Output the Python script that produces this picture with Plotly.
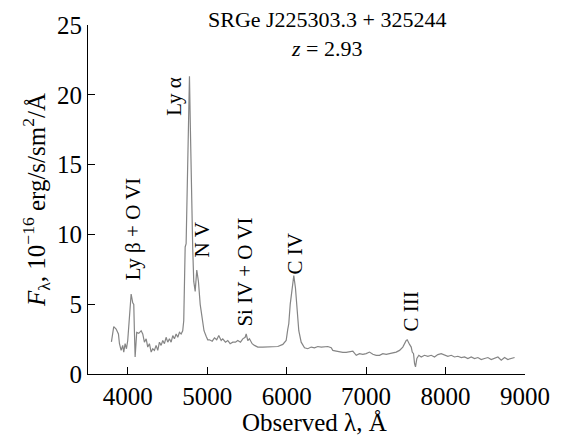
import plotly.graph_objects as go

wavelength = [3795, 3805, 3824, 3854, 3883, 3896, 3917, 3937, 3950, 3967, 3984, 4000, 4021, 4043, 4063,
              4076, 4084, 4093, 4113, 4139, 4169, 4189, 4210, 4232, 4252, 4273, 4295, 4315, 4336, 4357,
              4378, 4399, 4420, 4441, 4462, 4483, 4504, 4525, 4546, 4567, 4588, 4609, 4630, 4651, 4672,
              4692, 4705, 4714, 4723, 4735, 4756, 4768, 4777, 4789, 4802, 4818, 4831, 4849, 4869, 4890,
              4912, 4937, 4960, 4987, 5007, 5029, 5063, 5092, 5120, 5146, 5176, 5196, 5230, 5259, 5289,
              5322, 5356, 5385, 5419, 5448, 5478, 5491, 5511, 5532, 5566, 5595, 5637, 5700, 5763, 5826,
              5889, 5952, 5994, 6014, 6027, 6045, 6070, 6090, 6111, 6133, 6153, 6183, 6225, 6266, 6309,
              6351, 6392, 6435, 6477, 6518, 6561, 6581, 6624, 6665, 6707, 6749, 6791, 6833, 6876, 6917,
              6959, 7001, 7043, 7085, 7127, 7169, 7211, 7253, 7295, 7337, 7379, 7421, 7462, 7505, 7518,
              7547, 7568, 7581, 7597, 7610, 7622, 7639, 7664, 7694, 7735, 7777, 7820, 7861, 7903, 7946,
              7987, 8029, 8072, 8113, 8155, 8198, 8239, 8281, 8323, 8365, 8407, 8449, 8491, 8533, 8575,
              8617, 8659, 8701, 8743, 8784, 8827, 8869]
flux = [2.30, 2.60, 3.39, 3.22, 2.87, 2.17, 1.69, 2.05, 1.57, 2.17, 1.81, 2.40, 3.81, 5.73, 5.10,
        4.99, 3.10, 1.22, 2.98, 2.91, 3.10, 2.87, 2.28, 2.52, 1.93, 2.17, 1.57, 1.81, 1.69, 2.05,
        1.69, 2.28, 2.05, 2.40, 2.17, 2.63, 2.28, 2.52, 2.28, 2.75, 2.52, 2.87, 2.63, 2.98, 2.87,
        3.10, 3.81, 5.69, 9.10, 9.33, 15.09, 19.80, 21.32, 17.44, 12.27, 8.98, 6.63, 5.92, 7.45, 6.63,
        4.99, 3.93, 3.10, 2.70, 2.45, 2.45, 2.35, 2.59, 2.45, 2.75, 2.40, 2.52, 2.28, 2.40, 2.17,
        2.28, 2.28, 2.40, 2.28, 2.52, 2.63, 2.87, 2.40, 2.52, 2.17, 2.05, 1.93, 1.93, 1.93, 1.97,
        1.97, 2.12, 2.40, 3.20, 3.60, 4.99, 6.40, 7.05, 6.16, 4.51, 3.10, 2.28, 1.88, 1.81, 1.93,
        1.88, 1.97, 1.93, 1.97, 1.97, 1.88, 1.69, 1.64, 1.57, 1.55, 1.55, 1.57, 1.64, 1.34, 1.46,
        1.41, 1.46, 1.57, 1.41, 1.34, 1.34, 1.46, 1.41, 1.46, 1.50, 1.57, 1.69, 1.93, 2.40, 2.45,
        2.12, 1.93, 1.57, 1.46, 0.75, 0.51, 1.11, 1.34, 1.22, 1.34, 1.27, 1.34, 1.22, 1.39, 1.46,
        1.34, 1.27, 1.34, 1.22, 1.27, 1.18, 1.22, 1.11, 1.22, 1.11, 1.18, 1.04, 1.11, 1.18, 1.04,
        1.11, 1.22, 0.99, 1.18, 1.04, 1.11, 1.18]

line_labels = ["Ly β + O VI", "Ly α", "N V", "Si IV + O VI", "C IV", "C III"]
label_x = [4060, 4588, 4940, 5482, 6099, 7560]
label_y = [10.4, 19.9, 9.6, 7.3, 8.6, 4.45]

x_ticks = [4000, 5000, 6000, 7000, 8000, 9000]
y_ticks = [0, 5, 10, 15, 20, 25]

FONT = "Times New Roman, Liberation Serif, DejaVu Serif, serif"

fig = go.Figure()
fig.add_trace(go.Scatter(x=wavelength, y=flux, mode="lines",
                         line=dict(color="#858585", width=1.2), hoverinfo="skip"))

for t, xx, yy in zip(line_labels, label_x, label_y):
    fig.add_annotation(x=xx, y=yy, xref="x", yref="y", text=t, textangle=-90,
                       showarrow=False, font=dict(family=FONT, size=21, color="black"))

fig.add_annotation(x=0.547, y=1.058, xref="paper", yref="paper", xanchor="center", yanchor="top",
                   text="SRGe J225303.3 + 325244<br><i>z</i> = 2.93", showarrow=False,
                   font=dict(family=FONT, size=22, color="black"), align="center")

fig.add_annotation(x=0.5185, y=-0.14, xref="paper", yref="paper", xanchor="center", yanchor="middle",
                   text="Observed λ, Å", showarrow=False, borderpad=0,
                   font=dict(family=FONT, size=25, color="black"))

fig.update_layout(
    width=562, height=436,
    margin=dict(l=88, r=37, t=19, b=62),
    paper_bgcolor="white", plot_bgcolor="white",
    showlegend=False,
    font=dict(family=FONT, size=23, color="black"),
)
fig.update_xaxes(range=[3500, 9000], tickvals=x_ticks, ticks="inside", ticklen=7,
                 tickwidth=1.2, tickcolor="black", showline=True, linecolor="black", linewidth=1.2,
                 showgrid=False, zeroline=False, mirror=False,
                 tickfont=dict(family=FONT, size=25))
fig.update_yaxes(range=[0, 25], tickvals=y_ticks, ticks="inside", ticklen=7,
                 tickwidth=1.2, tickcolor="black", showline=True, linecolor="black", linewidth=1.2,
                 showgrid=False, zeroline=False, mirror=False,
                 title=dict(text="<i>F</i><sub>λ</sub>, 10<sup>−16</sup> erg/s/sm<sup>2</sup>/Å",
                            font=dict(family=FONT, size=25), standoff=4),
                 tickfont=dict(family=FONT, size=25))

fig.write_html("out.html")
